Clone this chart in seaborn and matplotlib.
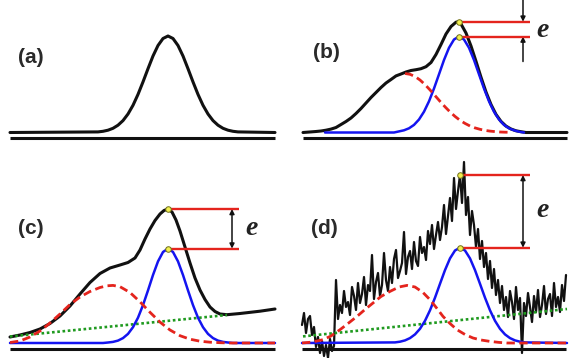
import numpy as np
import seaborn as sns
import matplotlib.pyplot as plt

sns.set_theme(style="white")

# (a) single clean peak
a_x = [10, 98, 103, 108, 113, 118, 123, 128, 133, 138, 143, 148, 153, 158, 163, 168,
       173, 178, 183, 188, 193, 198, 203, 208, 213, 218, 223, 228, 233, 238, 275]
a_y = [0, 0.6, 1.2, 2.3, 4.2, 7.3, 11.9, 18.5, 27.2, 38.1, 50.6, 63.8, 76.5, 87.0, 94.0, 96.5,
       94.0, 87.0, 76.5, 63.8, 50.6, 38.1, 27.2, 18.5, 11.9, 7.3, 4.2, 2.3, 1.2, 0.6, 0]

# (b) overlapped peaks
b_x = [12, 20, 25, 30, 35, 40, 45, 50, 55, 60, 65, 70, 75, 80, 85, 90, 95, 100, 105, 110,
       115, 120, 125, 130, 135, 140, 145, 150, 155, 160, 165, 168, 170, 175, 180, 185, 190,
       195, 200, 205, 210, 215, 220, 225, 230, 235, 276]
b_y = [0, 0.6, 1.0, 1.5, 2.3, 3.4, 5.0, 8, 11, 14.5, 19, 24, 29.5, 35, 40, 45, 49.5, 53, 56.6, 58.5,
       60.5, 62, 62.8, 63.8, 65.8, 70, 78, 88, 98.5, 106, 110.3, 110.8, 108.5, 99.5, 86.5, 71.2, 55.3,
       40.5, 28.0, 18.1, 11.1, 6.4, 3.5, 1.7, 0.8, 0, 0]
b_blue_x = [34, 103, 108, 113, 118, 123, 128, 133, 138, 143, 148, 153, 158, 163, 168,
            173, 178, 183, 188, 193, 198, 203, 208, 213, 218, 223, 228, 233]
b_blue_y = [0, 0, 1.1, 2.2, 4.2, 7.6, 13.0, 20.8, 31.2, 44.0, 58.2, 72.5, 84.7, 93.0, 96,
            93.0, 84.7, 72.5, 58.2, 44.0, 31.2, 20.8, 13.0, 7.6, 4.2, 2.2, 0.8, 0]
b_red_x = [114, 119, 124, 129, 134, 139, 144, 149, 154, 159, 164, 169, 174, 179, 184,
           189, 194, 199, 204, 209, 214, 219]
b_red_y = [59, 58.2, 56.0, 52.5, 47.9, 42.6, 36.9, 31.2, 25.7, 20.6, 16.1, 12.2, 9.1, 6.5, 4.6,
           3.2, 2.1, 1.4, 0.9, 0.5, 0.3, 0.2]

# (c) overlapped peaks on sloping background
c_x = [10, 20, 30, 40, 50, 60, 70, 80, 90, 100, 110, 120, 128, 135, 140, 145, 150, 155,
       160, 164, 168, 172, 176, 180, 185, 190, 195, 200, 205, 210, 215, 220, 227, 240, 260, 275]
c_y = [6, 8, 10.5, 14, 19.5, 27, 37, 49, 60.5, 69.5, 75, 78, 80.5, 85, 93, 104, 114, 122.5,
       129, 132.5, 134, 131, 123, 112, 96, 80, 65, 53, 43.5, 36, 31.5, 29, 28.3, 29.5, 31.8, 34]
c_blue_x = [10, 103, 108, 113, 118, 123, 128, 133, 138, 143, 148, 153, 158, 163, 168,
            173, 178, 183, 188, 193, 198, 203, 208, 213, 218, 223, 228, 233, 275]
c_blue_y = [0, 0, 0.5, 1.1, 2.4, 4.9, 9.1, 15.8, 25.3, 37.9, 52.6, 68.0, 81.6, 91.0, 94.4,
            91.0, 81.6, 68.0, 52.6, 37.9, 25.3, 15.8, 9.1, 4.9, 2.4, 1.1, 0.5, 0, 0]
c_red_x = [10, 20, 30, 40, 50, 60, 70, 80, 90, 100, 107, 113, 120, 130, 140, 150, 160,
           170, 180, 190, 200, 210, 220, 230, 275]
c_red_y = [0.5, 2, 6, 12, 20, 29, 38.5, 46, 51.5, 55.5, 57.2, 57.6, 56.3, 50.5, 41.2, 30.7, 20.9,
           13.0, 7.3, 3.8, 1.8, 0.8, 0.3, 0, 0]
c_green_x = [10, 227]
c_green_y = [6.5, 28]

# (d) same situation with noise
d_x = np.arange(11, 276, 2)
d_y = [18, 30, 10, 24, 27, 8, 16, -4, 6, -10,
       2, -13, -2, -15, 4, -8, -3, 63, 24, 38,
       30, 52, 36, 41, 28, 56, 47, 33, 60, 40,
       49, 66, 38, 58, 52, 88, 44, 61, 70, 47,
       58, 90, 63, 52, 76, 60, 84, 93, 65, 72,
       80, 111, 69, 86, 92, 74, 101, 82, 77, 106,
       90, 96, 83, 112, 99, 118, 94, 108, 121, 103,
       116, 138, 109, 127, 145, 122, 165, 134, 152, 168,
       140, 181, 128, 146, 108, 132, 118, 96, 114, 84,
       102, 76, 90, 64, 82, 55, 74, 48, 63, 40,
       57, 33, 46, 26, 52, 41, 24, 56, 33, 45,
       -10, 40, 27, 50, 36, 21, 47, 31, 53, 26,
       38, 57, 29, 44, 49, 27, 60, 36, 46, 31,
       58, 42, 68]
d_blue_x = [11, 104, 109, 114, 119, 124, 129, 134, 139, 144, 149, 154, 159, 164, 169,
            174, 179, 184, 189, 194, 199, 204, 209, 214, 219, 224, 229, 234, 276]
d_blue_y = [0, 0.6, 1.3, 2.6, 4.9, 8.6, 14.2, 22.2, 32.7, 45.3, 59.2, 72.9, 84.6, 92.5, 95.3,
            92.5, 84.6, 72.9, 59.2, 45.3, 32.7, 22.2, 14.2, 8.6, 4.9, 2.6, 1.3, 0.6, 0]
d_red_x = [11, 20, 32, 40, 49, 57, 66, 74, 82, 90, 99, 108, 116, 124, 132, 139, 146, 152,
           159, 166, 174, 182, 190, 199, 208, 216, 276]
d_red_y = [0, 0.8, 3.3, 7, 13.3, 19.5, 26.6, 33.5, 40, 46.5, 51.6, 56, 57.6, 56, 50.5, 43.3, 34.5,
           26.6, 19.5, 13.3, 8.5, 5, 3, 1.6, 0.6, 0, 0]
d_green_x = [12, 276]
d_green_y = [6.6, 34]

labels = ["(a)", "(b)", "(c)", "(d)"]

BLACK = "#111111"
BLUE = "#1414f0"
RED = "#e4241d"
GREEN = "#1f9a1f"
LINE_END = 239
ARROW_X = 232

W, H = 575, 358
fig = plt.figure(figsize=(W / 100, H / 100), dpi=100)
# one axes per panel, 1 data unit = 1 pixel
ax_a = fig.add_axes([0, 198 / H, 284 / W, 160 / H])
ax_b = fig.add_axes([291 / W, 198 / H, 284 / W, 160 / H])
ax_c = fig.add_axes([0, 0, 284 / W, 198 / H])
ax_d = fig.add_axes([291 / W, 0, 284 / W, 198 / H])
for ax in (ax_a, ax_b):
    ax.set_ylim(-27.5, 132.5)
for ax in (ax_c, ax_d):
    ax.set_ylim(-15, 183)
for ax in (ax_a, ax_b, ax_c, ax_d):
    ax.set_xlim(0, 284)
    ax.set_axis_off()


def line(ax, x, y, color, lw, ls="-", z=2):
    sns.lineplot(x=x, y=y, ax=ax, color=color, lw=lw, linestyle=ls,
                 estimator=None, sort=False, zorder=z)


def axis_line(ax, x, level):
    ax.hlines(level, x[0], x[-1], color=BLACK, lw=2.2, zorder=1)


def peak_marks(ax, x, y, bx, by, split=False):
    # error e = measured signal minus fitted peak, at the peak channel
    j = int(np.argmax(by))
    px = bx[j]
    top = y[list(x).index(px)]
    bottom = by[j]
    ax.hlines([top, bottom], px, LINE_END, color=RED, lw=1.7, zorder=4)
    sns.scatterplot(x=[px, px], y=[top, bottom], ax=ax, color="#f2ef4f",
                    edgecolor="#6f6f1a", s=16, linewidth=0.7, zorder=6)
    ak = dict(color=BLACK, lw=1.1, shrinkA=0, shrinkB=0, mutation_scale=7)
    if split:
        ax.annotate("", xy=(ARROW_X, top), xytext=(ARROW_X, ax.get_ylim()[1]),
                    arrowprops=dict(arrowstyle="-|>", **ak), annotation_clip=False)
        ax.annotate("", xy=(ARROW_X, bottom), xytext=(ARROW_X, bottom - 25),
                    arrowprops=dict(arrowstyle="-|>", **ak), annotation_clip=False)
    else:
        ax.annotate("", xy=(ARROW_X, top), xytext=(ARROW_X, bottom),
                    arrowprops=dict(arrowstyle="<|-|>", **ak), annotation_clip=False)


def e_label(ax, x, y):
    ax.text(x, y, "e", fontsize=20, fontstyle="italic", fontweight="bold",
            family="Liberation Serif", color="#222222", ha="center", va="baseline")


def panel_label(ax, x, y, s):
    ax.text(x, y, s, fontsize=15, fontweight="bold", family="Liberation Sans",
            color="#2a2a2a", ha="center", va="center")


DASH = (0, (3, 1.6))
DOT = (0, (1, 1))

# (a)
axis_line(ax_a, a_x, -5.4)
line(ax_a, a_x, a_y, BLACK, 2.2)
panel_label(ax_a, 31, 75, labels[0])

# (b)
axis_line(ax_b, b_x, -5.4)
line(ax_b, b_x, b_y, BLACK, 2.2)
line(ax_b, b_blue_x, b_blue_y, BLUE, 1.8, z=3)
line(ax_b, b_red_x, b_red_y, RED, 2.0, DASH, z=4)
peak_marks(ax_b, b_x, b_y, b_blue_x, b_blue_y, split=True)
e_label(ax_b, 252, 95.8)
panel_label(ax_b, 35, 80, labels[1])

# (c)
axis_line(ax_c, c_x, -6)
line(ax_c, c_x, c_y, BLACK, 2.2)
line(ax_c, c_green_x, c_green_y, GREEN, 1.9, DOT, z=3)
line(ax_c, c_blue_x, c_blue_y, BLUE, 1.8, z=3)
line(ax_c, c_red_x, c_red_y, RED, 2.0, DASH, z=4)
peak_marks(ax_c, c_x, c_y, c_blue_x, c_blue_y)
e_label(ax_c, 252, 108)
panel_label(ax_c, 31, 115, labels[2])

# (d)
axis_line(ax_d, d_x, -6)
line(ax_d, d_x, d_y, BLACK, 1.6)
line(ax_d, d_green_x, d_green_y, GREEN, 1.9, DOT, z=3)
line(ax_d, d_blue_x, d_blue_y, BLUE, 1.8, z=3)
line(ax_d, d_red_x, d_red_y, RED, 2.0, DASH, z=4)
peak_marks(ax_d, d_x, d_y, d_blue_x, d_blue_y)
e_label(ax_d, 252, 126.3)
panel_label(ax_d, 33, 115, labels[3])

fig.savefig("out.png", dpi=100, facecolor="white")
